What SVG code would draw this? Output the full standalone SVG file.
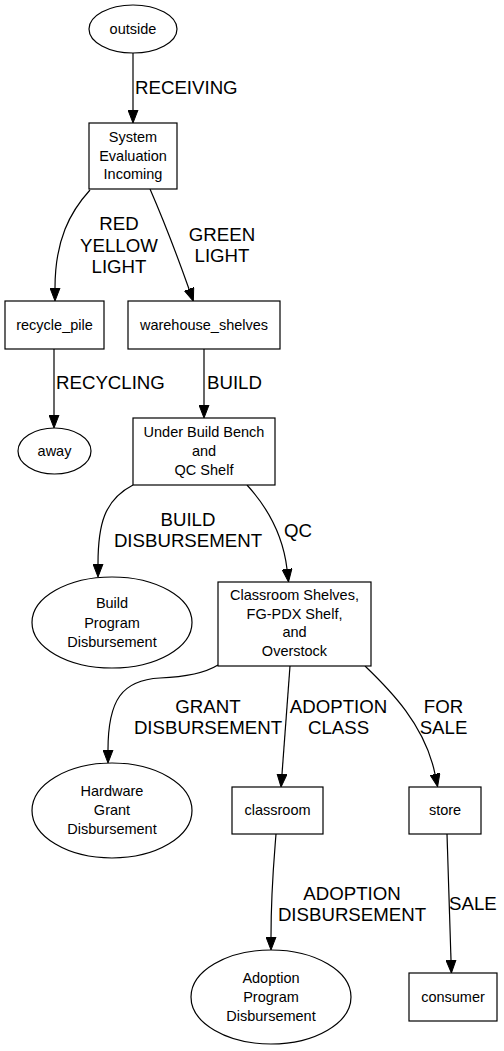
<svg xmlns="http://www.w3.org/2000/svg" width="504" height="1051" viewBox="0 0 504 1051">
<defs>
<marker id="arr" markerUnits="userSpaceOnUse" markerWidth="14" markerHeight="11" viewBox="0 -0.5 14 11" refX="0" refY="5" orient="auto">
<path d="M0,0 L13,5 L0,10 z" fill="#000" stroke="#000" stroke-width="1"/>
</marker>
</defs>
<style>
.n{fill:#fff;stroke:#000;stroke-width:1.2}
.t{font-family:"Liberation Sans",Arial,sans-serif;font-size:14.5px;text-anchor:middle;fill:#000}
.e{fill:none;stroke:#000;stroke-width:1.2;marker-end:url(#arr)}
.l{font-family:"Liberation Sans",Arial,sans-serif;font-size:18.67px;fill:#000}
.m{text-anchor:middle}
</style>
<rect width="504" height="1051" fill="#fff"/>
<g id="edges">
<path class="e" d="M133,53 L133,110"/>
<path class="e" d="M90,190 C70,212 55,240 55,288"/>
<path class="e" d="M150,189 C160,212 178,258 189,289"/>
<path class="e" d="M54,349 L54,415"/>
<path class="e" d="M204,349 L204,405"/>
<path class="e" d="M133,485 C104,500 98,525 98,564"/>
<path class="e" d="M247,485 C268,508 283,535 287,569"/>
<path class="e" d="M218,665 C205,673 185,677 160,678 C122,680 108,700 108,750"/>
<path class="e" d="M290,666 L282,774"/>
<path class="e" d="M365,666 C390,690 425,725 435,774"/>
<path class="e" d="M276,834 C274,860 271,890 271,937"/>
<path class="e" d="M447,834 L451,960"/>
<text class="l" x="135" y="94">RECEIVING</text>
<text class="l m" x="119" y="230">RED</text>
<text class="l m" x="119" y="251.5">YELLOW</text>
<text class="l m" x="119" y="272.5">LIGHT</text>
<text class="l m" x="222" y="241">GREEN</text>
<text class="l m" x="222" y="262">LIGHT</text>
<text class="l" x="56" y="389">RECYCLING</text>
<text class="l" x="207" y="389">BUILD</text>
<text class="l m" x="188" y="526">BUILD</text>
<text class="l m" x="188" y="547">DISBURSEMENT</text>
<text class="l" x="284" y="537">QC</text>
<text class="l m" x="208" y="713">GRANT</text>
<text class="l m" x="208" y="733.5">DISBURSEMENT</text>
<text class="l m" x="338.5" y="713">ADOPTION</text>
<text class="l m" x="338.5" y="733.5">CLASS</text>
<text class="l m" x="443.5" y="713">FOR</text>
<text class="l m" x="443.5" y="733.5">SALE</text>
<text class="l m" x="352" y="899.5">ADOPTION</text>
<text class="l m" x="352" y="920.5">DISBURSEMENT</text>
<text class="l" x="449" y="909.5">SALE</text>
</g>
<g id="outside"><ellipse class="n" cx="133" cy="29" rx="44" ry="24"/><text class="t" x="133" y="34">outside</text></g>
<g id="system"><rect class="n" x="89" y="123" width="88" height="66"/><text class="t" x="133" y="142">System</text><text class="t" x="133" y="160.5">Evaluation</text><text class="t" x="133" y="179">Incoming</text></g>
<g id="recycle_pile"><rect class="n" x="5" y="301" width="99" height="48"/><text class="t" x="54.5" y="330">recycle_pile</text></g>
<g id="warehouse_shelves"><rect class="n" x="128" y="301" width="152" height="48"/><text class="t" x="204" y="330">warehouse_shelves</text></g>
<g id="away"><ellipse class="n" cx="54.5" cy="451" rx="36.5" ry="23"/><text class="t" x="54.5" y="456">away</text></g>
<g id="under_build"><rect class="n" x="133" y="418" width="142" height="67"/><text class="t" x="204" y="437">Under Build Bench</text><text class="t" x="204" y="456">and</text><text class="t" x="204" y="475">QC Shelf</text></g>
<g id="build_program"><ellipse class="n" cx="112" cy="622.5" rx="80" ry="45.5"/><text class="t" x="112" y="608">Build</text><text class="t" x="112" y="627.5">Program</text><text class="t" x="112" y="646.5">Disbursement</text></g>
<g id="classroom_shelves"><rect class="n" x="218" y="582" width="153" height="84"/><text class="t" x="294.5" y="600">Classroom Shelves,</text><text class="t" x="294.5" y="618.5">FG-PDX Shelf,</text><text class="t" x="294.5" y="637">and</text><text class="t" x="294.5" y="655.5">Overstock</text></g>
<g id="hardware_grant"><ellipse class="n" cx="112" cy="810.5" rx="80" ry="47.5"/><text class="t" x="112" y="796">Hardware</text><text class="t" x="112" y="815">Grant</text><text class="t" x="112" y="833.5">Disbursement</text></g>
<g id="classroom"><rect class="n" x="232" y="787" width="91" height="47"/><text class="t" x="277.5" y="815">classroom</text></g>
<g id="store"><rect class="n" x="409" y="787" width="72" height="47"/><text class="t" x="445" y="815">store</text></g>
<g id="adoption_program"><ellipse class="n" cx="271" cy="997" rx="80" ry="47"/><text class="t" x="271" y="983">Adoption</text><text class="t" x="271" y="1002">Program</text><text class="t" x="271" y="1020.5">Disbursement</text></g>
<g id="consumer"><rect class="n" x="409" y="973" width="88" height="48"/><text class="t" x="453" y="1002">consumer</text></g>
</svg>
